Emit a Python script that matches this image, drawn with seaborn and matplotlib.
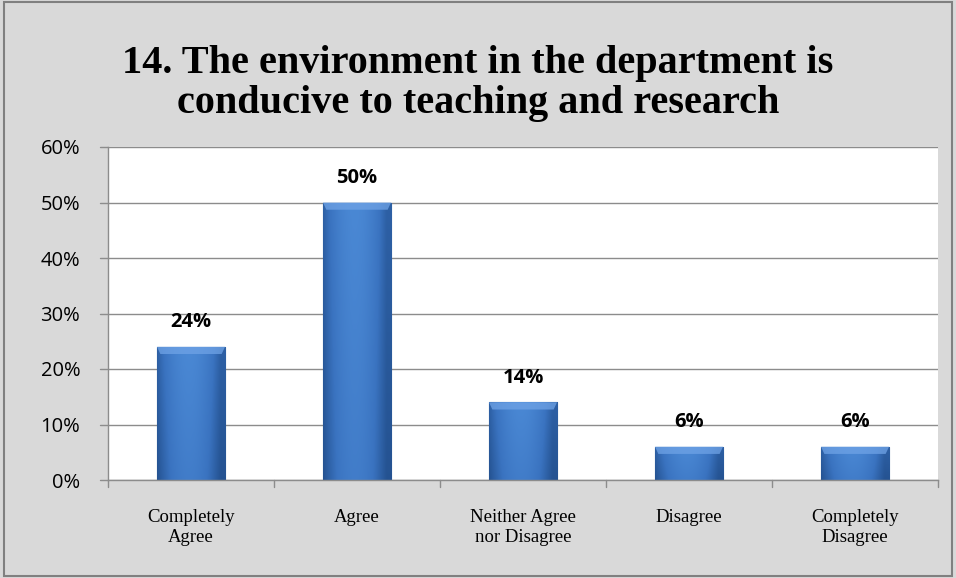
import numpy as np
import pandas as pd
import seaborn as sns
from matplotlib import pyplot as plt

categories = ['Completely\nAgree', 'Agree', 'Neither Agree\nnor Disagree', 'Disagree', 'Completely\nDisagree']
values = [24, 50, 14, 6, 6]
labels = ['24%', '50%', '14%', '6%', '6%']
yticks = [0, 10, 20, 30, 40, 50, 60]

sns.set_style('white')
plt.rcParams['font.family'] = ['Liberation Sans', 'DejaVu Sans']
plt.rcParams['text.color'] = 'black'

df = pd.DataFrame({'Response': categories, 'Percent': values})

fig = plt.figure(figsize=(9.56, 5.78), dpi=100, facecolor='#d9d9d9')
ax = fig.add_axes([108/956, 1-480/578, 830/956, 333/578])
ax.set_facecolor('white')

sns.barplot(data=df, x='Response', y='Percent', color='#3b72bd', width=0.41,
            saturation=1, edgecolor='#24508a', linewidth=0.8, ax=ax)

# gradient fill on each bar (clipped to the bar patch)
xs = np.linspace(0, 1, 64)
horiz = 0.6 + 0.4 * np.sin(np.pi * np.clip(xs * 1.08, 0, 1))
grad = np.tile(horiz, (64, 1))
vert = np.linspace(0.85, 1.0, 64)[:, None]
shade = grad * vert
cmap = sns.blend_palette(['#1f4a85', '#3a73c0', '#4a88d4'], as_cmap=True)
for p in ax.patches:
    x0, y0 = p.get_x(), p.get_y()
    w, h = p.get_width(), p.get_height()
    im = ax.imshow(shade, extent=(x0, x0 + w, y0, y0 + h), origin='lower', cmap=cmap,
                   vmin=0.45, vmax=1.0, aspect='auto', zorder=p.get_zorder() + 0.1)
    im.set_clip_path(p)
    # lighter bevel along the top of the bar
    top = plt.Polygon([(x0, y0 + h), (x0 + w, y0 + h), (x0 + w * 0.95, y0 + h - 1.3),
                       (x0 + w * 0.05, y0 + h - 1.3)], closed=True, color='#6fa3e6',
                      alpha=0.75, zorder=p.get_zorder() + 0.2, lw=0)
    ax.add_patch(top)

for i, (v, lab) in enumerate(zip(values, labels)):
    ax.text(i, v + 2.6, lab, ha='center', va='bottom', fontsize=14.5, fontweight='bold',
            family=['Open Sans', 'DejaVu Sans'])

ax.set_ylim(0, 60)
ax.set_xlim(-0.5, 4.5)
ax.set_yticks(yticks)
ax.set_yticklabels([f'{t}%' for t in yticks], fontsize=14.5, family=['Open Sans', 'DejaVu Sans'],
                   color='black')
ax.set_xticks(range(len(categories)))
ax.set_xticklabels(categories, fontsize=13.5, family=['Liberation Serif'], color='black',
                   linespacing=1.25)
ax.tick_params(axis='x', length=0, pad=21)
ax.tick_params(axis='y', length=0, pad=20)
# tick marks between categories and beside the y values
for xb in np.arange(-0.5, 5.0, 1.0):
    ax.plot([xb, xb], [0, -1.3], color='#8c8c8c', lw=1, clip_on=False)
for yt in yticks:
    ax.plot([-0.5, -0.548], [yt, yt], color='#8c8c8c', lw=1, clip_on=False)

ax.yaxis.grid(True, color='#8c8c8c', lw=1)
ax.set_axisbelow(True)
for s in ['top', 'right']:
    ax.spines[s].set_visible(False)
for s in ['left', 'bottom']:
    ax.spines[s].set_color('#8c8c8c')
    ax.spines[s].set_linewidth(1)
ax.set_xlabel('')
ax.set_ylabel('')

fig.text(0.5, 0.855, '14. The environment in the department is\nconducive to teaching and research',
         ha='center', va='center', fontsize=29, fontweight='bold', family=['Liberation Serif'],
         linespacing=1.1, color='black')

# outer border
fig.patches.append(plt.Rectangle((0.004, 0.004), 0.992, 0.992, transform=fig.transFigure,
                                 fill=False, edgecolor='#808080', lw=1.5))

fig.savefig('out.png', dpi=100, facecolor=fig.get_facecolor())
